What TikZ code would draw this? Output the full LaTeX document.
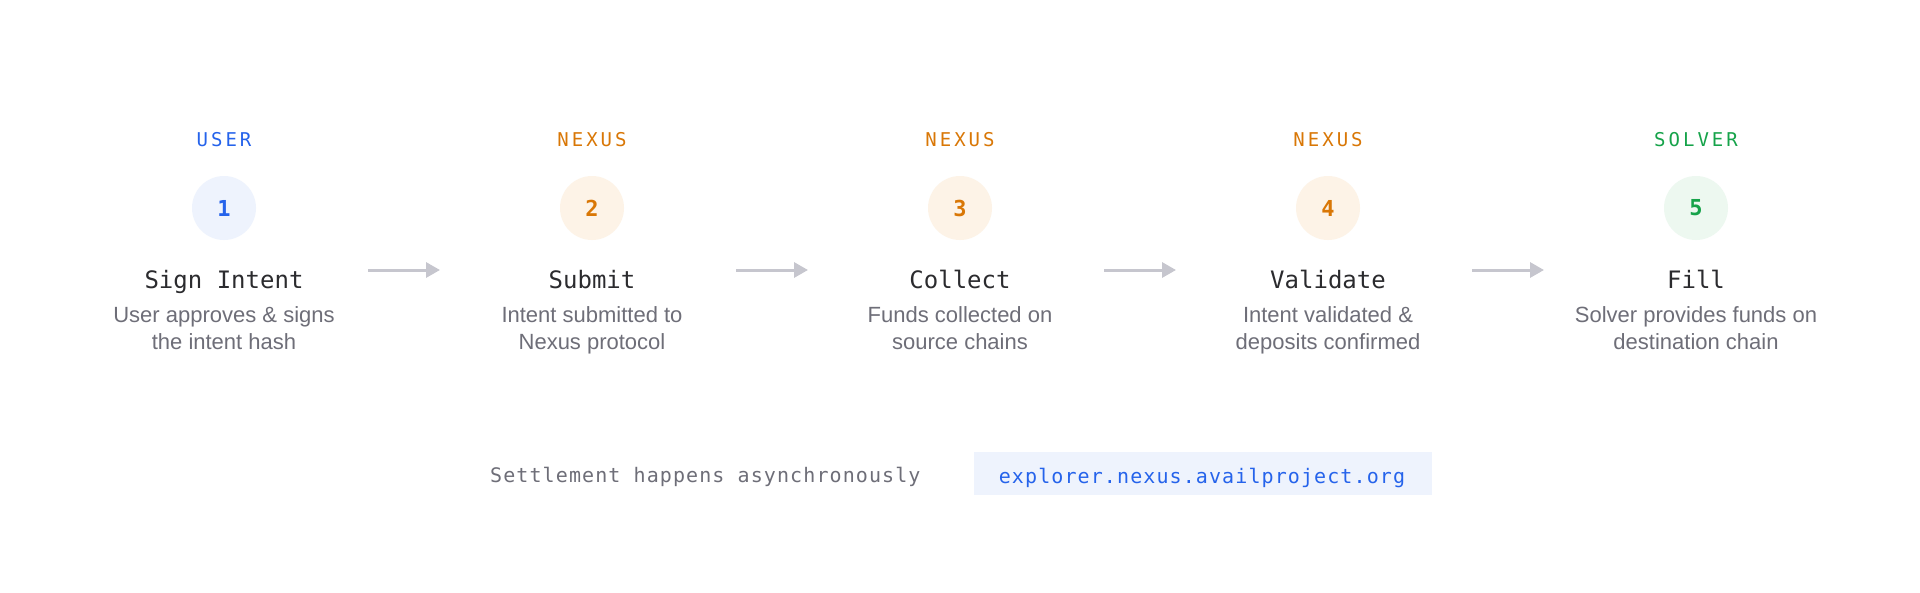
\documentclass[tikz,border=0pt]{standalone}
\usepackage{fontspec}
\setmainfont{Liberation Sans}
\newfontfamily\monofont{DejaVu Sans Mono}
\newfontfamily\monorole[LetterSpace=16]{DejaVu Sans Mono}
\newfontfamily\monoset[LetterSpace=5.5]{DejaVu Sans Mono}
\usetikzlibrary{arrows.meta}
\definecolor{userblue}{HTML}{2563EB}
\definecolor{userfill}{HTML}{EEF3FD}
\definecolor{nexorange}{HTML}{D97706}
\definecolor{nexfill}{HTML}{FDF3E7}
\definecolor{solgreen}{HTML}{16A34A}
\definecolor{solfill}{HTML}{EDF8F0}
\definecolor{titlegray}{HTML}{2B2B2E}
\definecolor{descgray}{HTML}{6E6E78}
\definecolor{arrowgray}{HTML}{C6C6CE}
\definecolor{linkfill}{HTML}{EEF3FD}
\tikzset{
  role/.style={font=\monorole\fontsize{19}{19}\selectfont, anchor=base, inner sep=0},
  numcircle/.style={circle, minimum size=64pt, inner sep=0, font=\monofont\bfseries\fontsize{22}{22}\selectfont},
  steptitle/.style={font=\monofont\fontsize{24}{24}\selectfont, text=titlegray, anchor=base, inner sep=0},
  stepdesc/.style={font=\fontsize{22}{27}\selectfont, text=descgray, anchor=base, inner sep=0},
  flowarrow/.style={draw=arrowgray, line width=3pt, -{Triangle[length=14pt,width=15pt]}},
  bottomtext/.style={font=\monoset\fontsize{20}{20}\selectfont, inner sep=0},
}
\begin{document}
\begin{tikzpicture}[x=1pt,y=-1pt]
\useasboundingbox (0,0) rectangle (1920,592);
\fill[white] (0,0) rectangle (1920,592);

% column 1
\node[role, text=userblue] (r1) at (224,146) {USER};
\node[numcircle, fill=userfill, text=userblue] (c1) at (224,208) {1};
\node[steptitle] (t1) at (224,288) {Sign Intent};
\node[stepdesc] (d1a) at (224,322) {User approves \& signs};
\node[stepdesc] (d1b) at (224,349) {the intent hash};

% column 2
\node[role, text=nexorange] (r2) at (592,146) {NEXUS};
\node[numcircle, fill=nexfill, text=nexorange] (c2) at (592,208) {2};
\node[steptitle] (t2) at (592,288) {Submit};
\node[stepdesc] (d2a) at (592,322) {Intent submitted to};
\node[stepdesc] (d2b) at (592,349) {Nexus protocol};

% column 3
\node[role, text=nexorange] (r3) at (960,146) {NEXUS};
\node[numcircle, fill=nexfill, text=nexorange] (c3) at (960,208) {3};
\node[steptitle] (t3) at (960,288) {Collect};
\node[stepdesc] (d3a) at (960,322) {Funds collected on};
\node[stepdesc] (d3b) at (960,349) {source chains};

% column 4
\node[role, text=nexorange] (r4) at (1328,146) {NEXUS};
\node[numcircle, fill=nexfill, text=nexorange] (c4) at (1328,208) {4};
\node[steptitle] (t4) at (1328,288) {Validate};
\node[stepdesc] (d4a) at (1328,322) {Intent validated \&};
\node[stepdesc] (d4b) at (1328,349) {deposits confirmed};

% column 5
\node[role, text=solgreen] (r5) at (1696,146) {SOLVER};
\node[numcircle, fill=solfill, text=solgreen] (c5) at (1696,208) {5};
\node[steptitle] (t5) at (1696,288) {Fill};
\node[stepdesc] (d5a) at (1696,322) {Solver provides funds on};
\node[stepdesc] (d5b) at (1696,349) {destination chain};

% arrows
\coordinate (a1s) at (368,270); \coordinate (a1e) at (440,270);
\coordinate (a2s) at (736,270); \coordinate (a2e) at (808,270);
\coordinate (a3s) at (1104,270); \coordinate (a3e) at (1176,270);
\coordinate (a4s) at (1472,270); \coordinate (a4e) at (1544,270);
\draw[flowarrow] (a1s) -- (a1e);
\draw[flowarrow] (a2s) -- (a2e);
\draw[flowarrow] (a3s) -- (a3e);
\draw[flowarrow] (a4s) -- (a4e);

% bottom
\node[bottomtext, text=descgray, anchor=base west] (settle) at (490,482) {Settlement happens asynchronously};
\node[fill=linkfill, minimum width=458pt, minimum height=43pt, inner sep=0] (linkbox) at (1203,473.5) {};
\node[bottomtext, text=userblue, anchor=base] (link) at (1202,483) {explorer.nexus.availproject.org};
\end{tikzpicture}
\end{document}
